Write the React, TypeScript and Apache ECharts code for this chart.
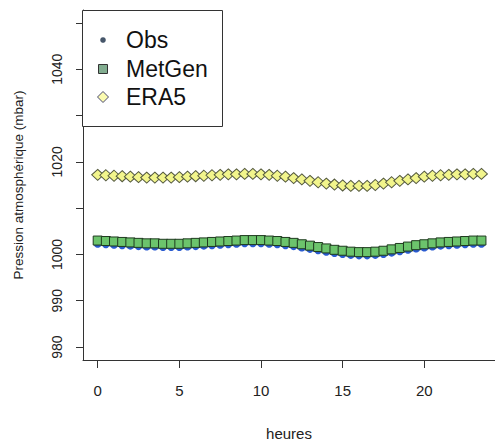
import React, { useEffect, useRef } from "react";
import * as echarts from "echarts";

const hours = [
  0, 0.5, 1, 1.5, 2, 2.5, 3, 3.5, 4, 4.5, 5, 5.5, 6, 6.5, 7, 7.5, 8, 8.5, 9, 9.5,
  10, 10.5, 11, 11.5, 12, 12.5, 13, 13.5, 14, 14.5, 15, 15.5, 16, 16.5, 17, 17.5,
  18, 18.5, 19, 19.5, 20, 20.5, 21, 21.5, 22, 22.5, 23, 23.5,
];

const obs = [
  1002.3, 1002.2, 1002.1, 1002.0, 1001.9, 1001.8, 1001.7, 1001.7, 1001.6, 1001.6,
  1001.6, 1001.7, 1001.8, 1001.9, 1002.0, 1002.1, 1002.2, 1002.3, 1002.4, 1002.4,
  1002.4, 1002.3, 1002.2, 1002.0, 1001.8, 1001.5, 1001.2, 1000.9, 1000.6, 1000.3,
  1000.1, 999.9, 999.8, 999.8, 999.9, 1000.1, 1000.4, 1000.7, 1001.0, 1001.3,
  1001.5, 1001.7, 1001.9, 1002.0, 1002.1, 1002.2, 1002.3, 1002.3,
];

const metgen = [
  1003.0, 1002.9, 1002.8, 1002.7, 1002.6, 1002.5, 1002.4, 1002.4, 1002.3, 1002.3,
  1002.3, 1002.4, 1002.5, 1002.6, 1002.7, 1002.8, 1002.9, 1003.0, 1003.1, 1003.1,
  1003.1, 1003.0, 1002.9, 1002.7, 1002.5, 1002.2, 1001.9, 1001.6, 1001.3, 1001.0,
  1000.8, 1000.6, 1000.5, 1000.5, 1000.6, 1000.8, 1001.1, 1001.4, 1001.7, 1002.0,
  1002.2, 1002.4, 1002.6, 1002.7, 1002.8, 1002.9, 1003.0, 1003.0,
];

const era5 = [
  1017.2, 1017.1, 1017.0, 1016.9, 1016.8, 1016.7, 1016.6, 1016.6, 1016.6, 1016.6,
  1016.7, 1016.8, 1016.9, 1017.0, 1017.1, 1017.2, 1017.3, 1017.3, 1017.4, 1017.4,
  1017.3, 1017.2, 1017.0, 1016.8, 1016.5, 1016.2, 1015.9, 1015.6, 1015.3, 1015.1,
  1014.9, 1014.8, 1014.8, 1014.8, 1015.0, 1015.3, 1015.6, 1015.9, 1016.2, 1016.5,
  1016.8, 1017.0, 1017.1, 1017.2, 1017.3, 1017.3, 1017.4, 1017.4,
];

const xTicks = [0, 5, 10, 15, 20];
const yTicks = [980, 990, 1000, 1010, 1020, 1030, 1040, 1050];
const yLabels = [980, 990, 1000, 1020, 1040];
const legendNames = ["Obs", "MetGen", "ERA5"];

const FONT = "'Liberation Sans', Arial, Helvetica, sans-serif";

export default function App() {
  const ref = useRef<HTMLDivElement>(null);
  useEffect(() => {
    if (!ref.current) return;
    const chart = echarts.init(ref.current, null, { renderer: "svg" });
    const pair = (vals: number[]) => hours.map((h, i) => [h, vals[i]]);
    const lx = 103;
    const ly = [40, 69, 97];
    chart.setOption({
      animation: false,
      backgroundColor: "#ffffff",
      textStyle: { fontFamily: FONT },
      grid: { left: 83, top: 10, right: 0, bottom: 79, containLabel: false },
      xAxis: {
        type: "value",
        min: -0.9,
        max: 24.33,
        name: "heures",
        nameLocation: "middle",
        nameGap: 66,
        nameTextStyle: { fontSize: 15, color: "#222", fontFamily: FONT },
        axisLine: { show: true, onZero: false, lineStyle: { color: "#333", width: 1 } },
        axisTick: { show: true, length: 8, customValues: xTicks, lineStyle: { color: "#333" } },
        axisLabel: {
          customValues: xTicks,
          fontSize: 15,
          color: "#222",
          margin: 23,
          fontFamily: FONT,
          formatter: (v: number) => String(v),
        },
        splitLine: { show: false },
      },
      yAxis: {
        type: "value",
        min: 977.2,
        max: 1052.8,
        name: "Pression atmosphérique (mbar)",
        nameLocation: "middle",
        nameGap: 58,
        nameTextStyle: { fontSize: 13.5, color: "#222", fontFamily: FONT },
        axisLine: { show: true, onZero: false, lineStyle: { color: "#333", width: 1 } },
        axisTick: { show: true, length: 7, customValues: yTicks, lineStyle: { color: "#333" } },
        axisLabel: {
          customValues: yLabels,
          rotate: 90,
          fontSize: 14,
          color: "#222",
          margin: 19,
          fontFamily: FONT,
          formatter: (v: number) => String(v),
        },
        splitLine: { show: false },
      },
      series: [
        {
          name: "Obs",
          type: "scatter",
          data: pair(obs),
          symbol: "circle",
          symbolSize: 8,
          itemStyle: { color: "#2a5bd0", opacity: 1 },
          z: 1,
        },
        {
          name: "MetGen",
          type: "scatter",
          data: pair(metgen),
          symbol: "rect",
          symbolSize: 9,
          itemStyle: { color: "#6cc46c", borderColor: "#1f3a1f", borderWidth: 1, opacity: 1 },
          z: 2,
        },
        {
          name: "ERA5",
          type: "scatter",
          data: pair(era5),
          symbol: "diamond",
          symbolSize: [12, 11],
          itemStyle: { color: "#f2f58c", borderColor: "#555a40", borderWidth: 1, opacity: 1 },
          z: 3,
        },
      ],
      graphic: [
        {
          type: "rect",
          shape: { x: 82.5, y: 10.5, width: 140, height: 116 },
          style: { fill: "#ffffff", stroke: "#333", lineWidth: 1 },
          z: 10,
        },
        {
          type: "circle",
          shape: { cx: lx, cy: ly[0], r: 2.8 },
          style: { fill: "#46566a" },
          z: 11,
        },
        {
          type: "rect",
          shape: { x: lx - 4.5, y: ly[1] - 4.5, width: 9, height: 9 },
          style: { fill: "#82ad90", stroke: "#333", lineWidth: 1 },
          z: 11,
        },
        {
          type: "polygon",
          shape: { points: [[lx, ly[2] - 5.5], [lx + 5.5, ly[2]], [lx, ly[2] + 5.5], [lx - 5.5, ly[2]]] },
          style: { fill: "#fbfbb0", stroke: "#4a4a70", lineWidth: 1 },
          z: 11,
        },
        ...legendNames.map((n, i) => ({
          type: "text",
          x: 126,
          y: ly[i],
          style: {
            text: n,
            fontSize: 23,
            fontFamily: FONT,
            fill: "#111",
            verticalAlign: "middle",
            align: "left",
          },
          z: 11,
        })),
      ],
    });
    return () => chart.dispose();
  }, []);
  return (
    <div
      ref={ref}
      style={{ position: "fixed", left: 0, top: 0, width: 495, height: 446 }}
    />
  );
}
